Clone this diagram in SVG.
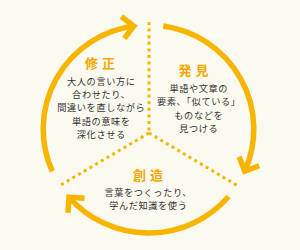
<svg xmlns="http://www.w3.org/2000/svg" width="300" height="250" viewBox="0 0 300 250">
<style>
.arc{fill:none;stroke:#f8b500;stroke-width:5.5;stroke-linecap:butt}
.dot{fill:none;stroke:#f8b500;stroke-width:3;stroke-dasharray:3 3.6}
.ttl{font-family:"Noto Sans CJK JP","Noto Sans",sans-serif;font-size:13px;font-weight:bold;fill:#f5a800;text-anchor:middle;letter-spacing:4px}
.txt{font-family:"Noto Sans CJK JP","Noto Sans",sans-serif;font-size:9.2px;letter-spacing:0.6px;fill:#333;text-anchor:middle}
</style>
<defs>
<marker id="chev" markerUnits="userSpaceOnUse" orient="auto" overflow="visible" markerWidth="1" markerHeight="1" refX="0" refY="0">
<path d="M-11,-11 L0,0 L-11,11" fill="none" stroke="#f8b500" stroke-width="5.5" stroke-linejoin="miter"/>
</marker>
</defs>
<rect width="300" height="250" fill="#fbfaf0"/>
<g id="connectors">
<path class="dot" d="M149,22 V133"/>
<path class="dot" d="M149,133 L238,186"/>
<path class="dot" d="M149,133 L59,186"/>
<path class="arc" d="M52.3,171.3 A105.3,104 0 0 1 133.8,26" marker-end="url(#chev)"/>
<path class="arc" d="M163.2,26 A105.3,104 0 0 1 244.7,171.3" marker-end="url(#chev)"/>
<path class="arc" d="M228.6,196.5 A105.3,104 0 0 1 69,197.2" marker-end="url(#chev)"/>
</g>
<g id="shusei">
<text class="ttl" x="102" y="68">修正</text>
<text class="txt" x="101.3" y="84.5">大人の言い方に</text>
<text class="txt" x="101.3" y="97.9">合わせたり、</text>
<text class="txt" x="101.3" y="111.3">間違いを直しながら</text>
<text class="txt" x="101.3" y="124.7">単語の意味を</text>
<text class="txt" x="101.3" y="138.1">深化させる</text>
</g>
<g id="hakken">
<text class="ttl" x="195.5" y="75">発見</text>
<text class="txt" x="198.8" y="92">単語や文章の</text>
<text class="txt" x="198.8" y="105.4">要素、「似ている」</text>
<text class="txt" x="198.8" y="118.8">ものなどを</text>
<text class="txt" x="198.8" y="132.2">見つける</text>
</g>
<g id="souzou">
<text class="ttl" x="150" y="180">創造</text>
<text class="txt" x="148.3" y="196">言葉をつくったり、</text>
<text class="txt" x="148.3" y="209.4">学んだ知識を使う</text>
</g>
</svg>
